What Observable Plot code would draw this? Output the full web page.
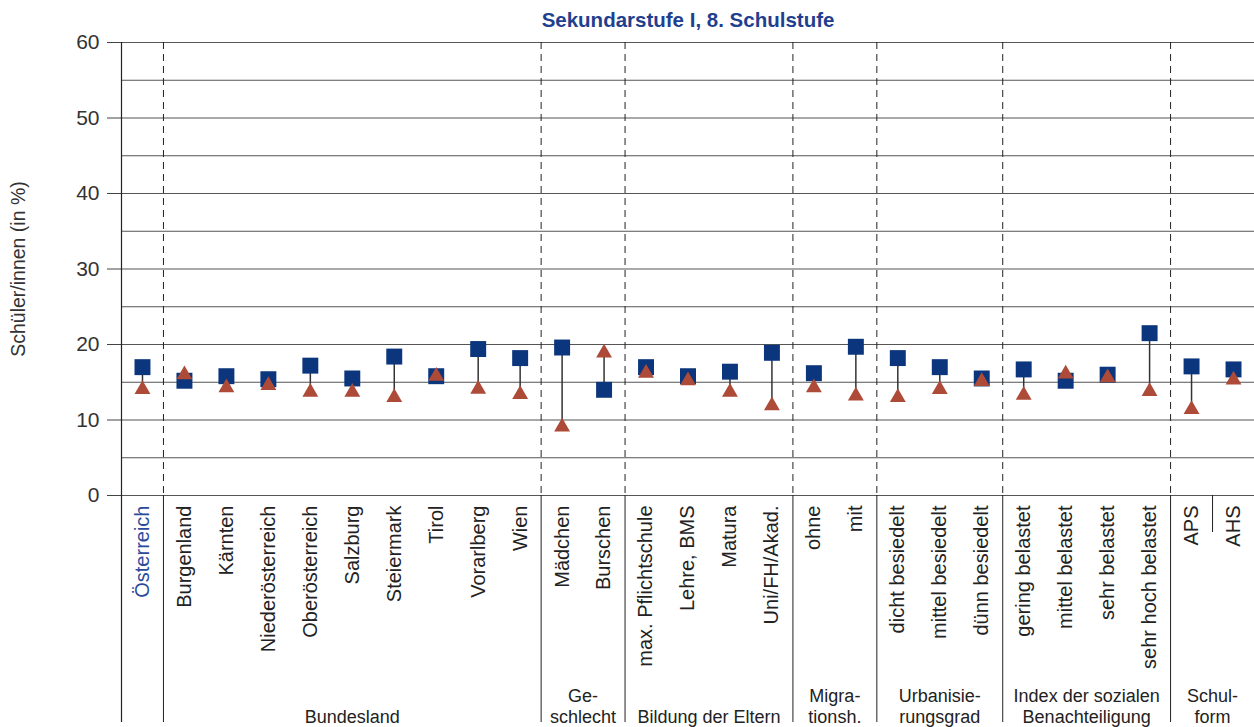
<!DOCTYPE html>
<html>
<head>
<meta charset="utf-8">
<script src="https://cdn.jsdelivr.net/npm/d3@7"></script>
<script src="https://cdn.jsdelivr.net/npm/@observablehq/plot@0.6"></script>
<style>
  html, body { margin: 0; padding: 0; background: #fff; }
</style>
</head>
<body>
<div id="chart"></div>
<script>
// ---- data ----
const categories = [
  "Österreich", "Burgenland", "Kärnten", "Niederösterreich", "Oberösterreich",
  "Salzburg", "Steiermark", "Tirol", "Vorarlberg", "Wien",
  "Mädchen", "Burschen",
  "max. Pflichtschule", "Lehre, BMS", "Matura", "Uni/FH/Akad.",
  "ohne", "mit",
  "dicht besiedelt", "mittel besiedelt", "dünn besiedelt",
  "gering belastet", "mittel belastet", "sehr belastet", "sehr hoch belastet",
  "APS", "AHS"
];
// blue squares
const squareValues = [
  17.0, 15.2, 15.8, 15.4, 17.2, 15.5, 18.4, 15.8, 19.4, 18.2,
  19.6, 14.0,
  17.0, 15.8, 16.4, 18.9,
  16.2, 19.7,
  18.2, 17.0, 15.5,
  16.7, 15.2, 16.0, 21.5,
  17.1, 16.7
];
// red triangles
const triangleValues = [
  14.35, 16.3, 14.6, 14.9, 14.0, 14.0, 13.3, 16.1, 14.4, 13.7,
  9.4, 19.2,
  16.5, 15.5, 14.0, 12.2,
  14.6, 13.5,
  13.3, 14.35, 15.4,
  13.6, 16.4, 15.9, 14.1,
  11.7, 15.6
];
const groupNames = [
  "Bundesland", "Ge-\nschlecht", "Bildung der Eltern", "Migra-\ntionsh.",
  "Urbanisie-\nrungsgrad", "Index der sozialen\nBenachteiligung", "Schul-\nform"
];
const groupFirst = [1, 10, 12, 16, 18, 21, 25];
const groupLast  = [9, 11, 15, 17, 20, 24, 26];
const yTicks = [0, 10, 20, 30, 40, 50, 60];
const gridValues = [0, 5, 10, 15, 20, 25, 30, 35, 40, 45, 50, 55, 60];
const title = "Sekundarstufe I, 8. Schulstufe";
const yLabel = "Schüler/innen (in %)";

// ---- build tables ----
const rows = categories.map((name, i) => ({i, name, sq: squareValues[i], tr: triangleValues[i]}));
const groups = groupNames.map((g, k) => ({label: g, center: (groupFirst[k] + groupLast[k]) / 2, start: groupFirst[k] - 0.5}));
const subDivider = [{x: 25.5}];

const W = 1254, H = 727;
const MT = 42, MB = 232, ML = 121, MR = 0;
const PH = H - MT - MB;
const font = "'Liberation Sans', Arial, Helvetica, sans-serif";
const textColor = "#333";
const blue = "#0b357c";
const red = "#ad4b38";
const titleBlue = "#1f3f8f";

const chart = Plot.plot({
  width: W, height: H,
  marginTop: MT, marginBottom: MB, marginLeft: ML, marginRight: MR,
  x: {domain: [-0.5, categories.length - 0.5], axis: null},
  y: {domain: [0, 60], axis: null},
  style: {fontFamily: font, background: "#fff", overflow: "visible"},
  marks: [
    // horizontal grid
    Plot.ruleY(gridValues, {stroke: "#555", strokeWidth: 1.1}),
    // y axis ticks and labels
    Plot.axisY(yTicks, {tickSize: 14, tickPadding: 8, fontSize: 21, color: textColor, stroke: "#444", label: null}),
    // left frame line down to bottom
    Plot.ruleX([-0.5], {stroke: "#222", strokeWidth: 1.2, insetBottom: -(MB - 5)}),
    // dashed group dividers inside plot
    Plot.ruleX(groups, {x: "start", stroke: "#222", strokeWidth: 1, strokeDasharray: "7,5"}),
    // solid dividers below plot
    Plot.ruleX(groups, {x: "start", stroke: "#222", strokeWidth: 1, insetTop: PH, insetBottom: -(MB - 5)}),
    Plot.ruleX(subDivider, {x: "x", stroke: "#222", strokeWidth: 1, insetTop: PH, insetBottom: -37}),
    // connectors
    Plot.ruleX(rows, {x: "i", y1: "sq", y2: "tr", stroke: "#333", strokeWidth: 1.5}),
    // squares
    Plot.dot(rows, {x: "i", y: "sq", symbol: "square", r: 9, fill: blue, stroke: "none"}),
    // triangles
    Plot.dot(rows, {x: "i", y: "tr", symbol: "triangle", r: 5.9, fill: red, stroke: "none", dy: 2.3}),
    // category labels
    Plot.text(rows, {
      x: "i", text: "name", frameAnchor: "bottom", dy: 10, rotate: -90, textAnchor: "end", lineAnchor: "middle",
      fontSize: 20, fill: d => d.i === 0 ? "#2b4a9b" : "#222"
    }),
    // group labels
    Plot.text(groups, {
      x: "center", text: "label", frameAnchor: "bottom", dy: 227, lineAnchor: "bottom",
      fontSize: 18, lineHeight: 1.12, fill: "#222"
    }),
    // title
    Plot.text([title], {text: d => d, frameAnchor: "top", dy: -22, lineAnchor: "middle", fontSize: 20.5, fontWeight: "bold", fill: titleBlue}),
    // y label
    Plot.text([yLabel], {text: d => d, frameAnchor: "left", dx: -103, rotate: -90, textAnchor: "middle", lineAnchor: "middle", fontSize: 19.5, fill: textColor})
  ]
});
document.getElementById("chart").appendChild(chart);
</script>
</body>
</html>
